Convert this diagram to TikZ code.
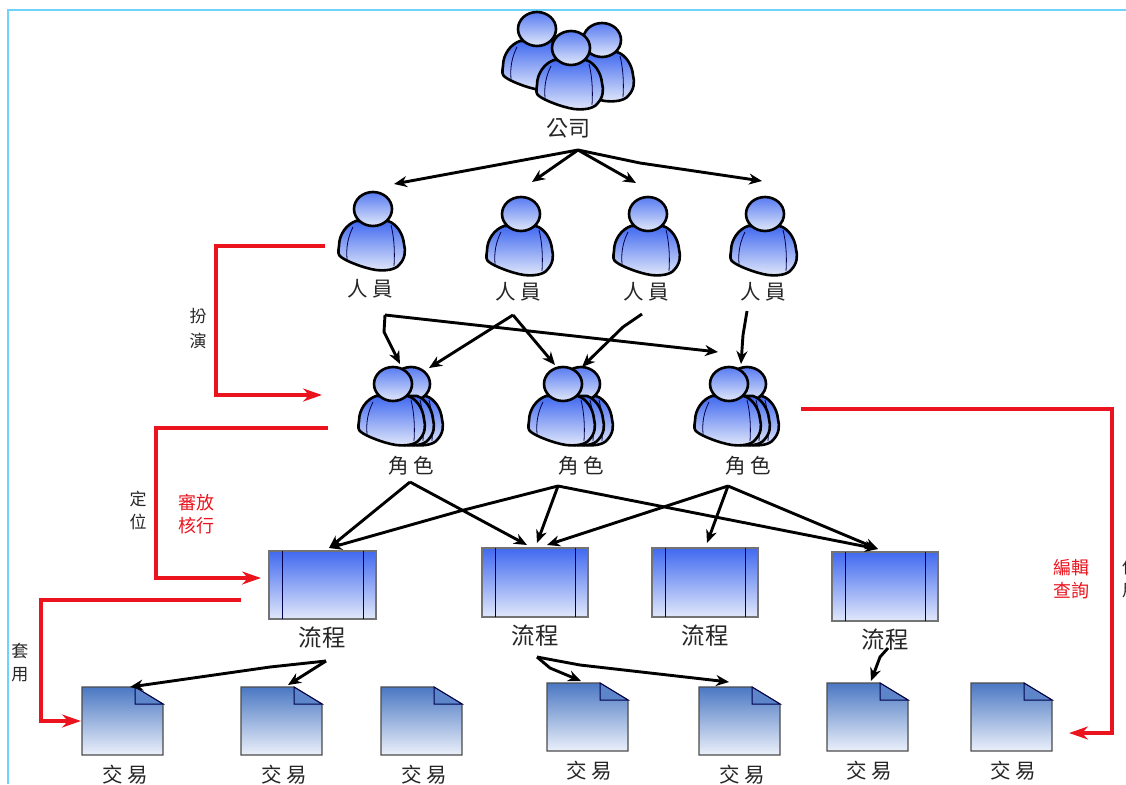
\documentclass[tikz,border=0pt]{standalone}
\usepackage{fontspec}
\setmainfont{Noto Sans CJK TC}
\usetikzlibrary{arrows.meta,calc}
\definecolor{frameblue}{RGB}{110,210,252}
\definecolor{topb}{RGB}{65,105,240}
\definecolor{botb}{RGB}{225,232,250}
\definecolor{doctop}{RGB}{75,120,195}
\definecolor{docbot}{RGB}{235,240,250}
\definecolor{redline}{RGB}{235,20,30}
\tikzset{
  x=1pt,y=-1pt,
  body/.style={draw=black,line width=2.6pt,top color=topb,bottom color=botb},
  head/.style={draw=black,line width=2.6pt,top color=topb!88,bottom color=botb},
  crease/.style={draw=black!70!blue,line width=.8pt},
  lbl/.style={font=\fontsize{20.5pt}{22pt}\selectfont,text=black!85,inner sep=0pt},
  biglbl/.style={font=\fontsize{23.5pt}{25pt}\selectfont,text=black!85,inner sep=0pt},
  redlbl/.style={font=\fontsize{18pt}{23pt}\selectfont,text=redline,align=center,inner sep=0pt},
  sidelbl/.style={font=\fontsize{17pt}{23pt}\selectfont,text=black!85,align=center,inner sep=0pt},
  arr/.style={draw=black,line width=2.9pt,-{Stealth[length=13pt,width=11pt]}},
  redarr/.style={draw=redline,line width=3.5pt,-{Stealth[length=19pt,width=13pt]}},
  anchorpt/.style={inner sep=0pt,minimum size=0pt},
  personbody/.pic={
    \path[body] (-17,12) .. controls (-26,15) and (-34,25) .. (-34,37) .. controls (-35,43) and (-35,46) .. (-32,48)
      .. controls (-27,52) and (-10,59) .. (3,61) .. controls (12,62) and (22,61) .. (26,56)
      .. controls (32,50) and (33,42) .. (31,35) .. controls (30,25) and (24,15) .. (15,12) -- cycle;
    \draw[crease] (-20,18) .. controls (-25,28) and (-27,38) .. (-26,50);
    \draw[crease] (18,16) .. controls (21,28) and (22,42) .. (21,57);
  },
  person/.pic={
    \pic{personbody};
    \path[head] (0,0) ellipse[x radius=19,y radius=17];
  }
}
\begin{document}
\begin{tikzpicture}
\useasboundingbox (0,0) rectangle (1126,784);
\fill[white] (0,0) rectangle (1126,784);
\draw[frameblue,line width=2pt] (8,784) -- (8,10) -- (1126,10);

% company group
\path (537,29) pic{person};
\path (602,40) pic{person};
\path (571,48) pic{person};
\node[lbl,font=\fontsize{22pt}{24pt}\selectfont] (company) at (568,128) {公司};

% people
\path (373,209) pic{person};
\path (521,214) pic{person};
\path (648,214) pic{person};
\path (765,214) pic{person};
\node[lbl] (p1) at (370,289) {人 員};
\node[lbl] (p2) at (518,292) {人 員};
\node[lbl] (p3) at (646,292) {人 員};
\node[lbl] (p4) at (763,292) {人 員};

% roles
\foreach \x/\y in {393/384,563/384,729/384}{
  \path (\x+18,\y) pic{person};
  \path (\x+9,\y) pic{personbody};
  \path (\x,\y) pic{person};
}
\node[lbl] (r1) at (411,466) {角 色};
\node[lbl] (r2) at (581,466) {角 色};
\node[lbl] (r3) at (748,466) {角 色};

% processes
\foreach \n/\x/\y/\w/\h in {b1/269/551/107/68,b2/482/548/106/69,b3/652/548/106/69,b4/832/552/106/69}{
  \node[anchorpt] (\n) at (\x+\w/2,\y+\h/2) {};
  \path[top color=topb,bottom color=botb,draw=black!55,line width=1.5pt] (\x,\y) rectangle ++(\w,\h);
  \draw[black!70!blue,line width=1pt] (\x+13,\y) -- ++(0,\h) (\x+\w-13,\y) -- ++(0,\h);
}
\node[biglbl] (f1) at (322,638) {流程};
\node[biglbl] (f2) at (535,636) {流程};
\node[biglbl] (f3) at (705,636) {流程};
\node[biglbl] (f4) at (885,640) {流程};

% documents
\foreach \n/\x/\y in {d1/82/687,d2/241/687,d3/381/687,d4/547/683,d5/699/687,d6/827/683,d7/971/683}{
  \node[anchorpt] (\n) at (\x+40,\y+34) {};
  \path[top color=doctop,bottom color=docbot,draw=black!70,line width=1.2pt] (\x,\y) -- ++(53,0) -- ++(28,17) -- ++(0,51) -- ++(-81,0) -- cycle;
  \draw[black!70!blue,line width=1pt,fill=doctop!90] (\x+53,\y) -- ++(0,17) -- ++(28,0) -- cycle;
}
\node[lbl] (t1) at (125,775) {交 易};
\node[lbl] (t2) at (284,775) {交 易};
\node[lbl] (t3) at (424,775) {交 易};
\node[lbl] (t4) at (589,771) {交 易};
\node[lbl] (t5) at (742,775) {交 易};
\node[lbl] (t6) at (869,771) {交 易};
\node[lbl] (t7) at (1013,771) {交 易};

% free ends of the black connectors
\coordinate (cs) at (578,150);
\coordinate (ca) at (394,184);\coordinate (cb) at (532,182);\coordinate (cc) at (636,183);\coordinate (cd) at (762,181);
\draw[arr] (cs) -- (ca);
\draw[arr] (cs) -- (cb);
\draw[arr] (cs) -- (cc);
\draw[arr] (cs) -- (640,163) -- (cd);

\coordinate (p1s) at (385,315);\coordinate (p2s) at (513,315);\coordinate (p3s) at (642,314);\coordinate (p4s) at (747,311);
\coordinate (ra) at (400,364);\coordinate (rb) at (429,368);\coordinate (rc) at (555,365);\coordinate (rd) at (582,367);\coordinate (re) at (718,352);\coordinate (rf) at (741,364);
\draw[arr] (p1s) -- (384,332) -- (ra);
\draw[arr] (p1s) -- (re);
\draw[arr] (p2s) -- (rb);
\draw[arr] (p2s) -- (rc);
\draw[arr] (p3s) -- (623,327) -- (rd);
\draw[arr] (p4s) -- (743,335) -- (rf);

\coordinate (r1s) at (410,482);\coordinate (r2s) at (558,486);\coordinate (r3s) at (728,486);
\coordinate (ba) at (329,548);\coordinate (bb) at (527,545);\coordinate (bc) at (537,543);\coordinate (bd) at (547,545);\coordinate (be) at (707,543);\coordinate (bf) at (878,549);
\draw[arr] (r1s) -- (ba);
\draw[arr] (r1s) -- (bb);
\draw[arr] (r2s) -- (460,511) -- (ba);
\draw[arr] (r2s) -- (bc);
\draw[arr] (r2s) -- (bf);
\draw[arr] (r3s) -- (bd);
\draw[arr] (r3s) -- (be);
\draw[arr] (r3s) -- (bf);

\coordinate (f1s) at (326,661);\coordinate (f2s) at (537,657);\coordinate (f4s) at (888,648);
\coordinate (da) at (130,687);\coordinate (db) at (288,685);\coordinate (dc) at (581,681);\coordinate (dd) at (729,682);\coordinate (de) at (871,681);
\draw[arr] (f1s) -- (270,667) -- (da);
\draw[arr] (f1s) -- (db);
\draw[arr] (f2s) -- (550,668) -- (dc);
\draw[arr] (f2s) -- (580,665) -- (dd);
\draw[arr] (f4s) -- (880,657) -- (de);

% red connectors
\coordinate (a1) at (325,246);\coordinate (a2) at (322,395);
\coordinate (b1s) at (328,428);\coordinate (b2s) at (261,578);
\coordinate (c1) at (241,600);\coordinate (c2) at (81,721);
\coordinate (e1) at (801,409);\coordinate (e2) at (1069,733);
\draw[redarr] (a1) -- (216,246) -- (216,395) -- (a2);
\draw[redarr] (b1s) -- (156,428) -- (156,578) -- (b2s);
\draw[redarr] (c1) -- (41,600) -- (41,721) -- (c2);
\draw[redarr] (e1) -- (1112,409) -- (1112,733) -- (e2);

% side labels
\node[sidelbl] (s1) at (198,328) {扮\\[2pt]演};
\node[sidelbl] (s2) at (138,510) {定\\位};
\node[redlbl] (s3) at (196,514) {審放\\核行};
\node[sidelbl] (s4) at (20,663) {套\\用};
\node[redlbl] (s5) at (1071,579) {編輯\\查詢};
\node[sidelbl,anchor=west] (s6) at (1122,579) {使\\用};
\end{tikzpicture}
\end{document}
